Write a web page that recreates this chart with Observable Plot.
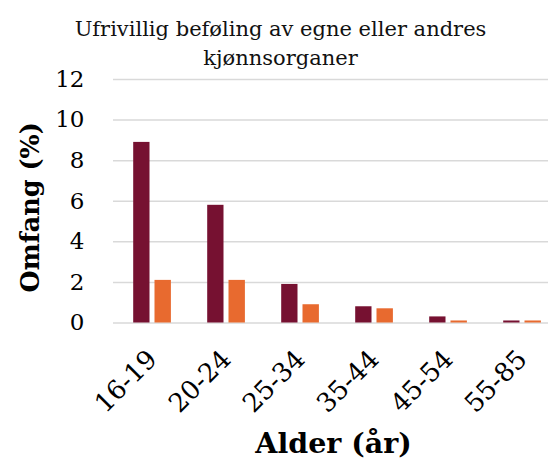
<!DOCTYPE html>
<html>
<head>
<meta charset="utf-8">
<script src="https://cdn.jsdelivr.net/npm/d3@7"></script>
<script src="https://cdn.jsdelivr.net/npm/@observablehq/plot@0.6"></script>
<style>
  html, body { margin: 0; padding: 0; background: #fff; }
  #title {
    box-sizing: border-box;
    width: 548px; height: 40px;
    padding: 15px 0 0 13px;
    text-align: center;
    font-family: "DejaVu Serif", serif;
    font-size: 21px; line-height: 28.5px;
    color: #111;
    white-space: nowrap;
    overflow: visible;
    position: relative;
    z-index: 0;
  }
  #chart { position: relative; z-index: 1; }
  #chart svg { display: block; background: transparent; }
</style>
</head>
<body>
<div id="title">Ufrivillig beføling av egne eller andres<br>kjønnsorganer</div>
<div id="chart"></div>
<script>
const ages = ["16-19", "20-24", "25-34", "35-44", "45-54", "55-85"];
const seriesDark = [8.9, 5.8, 1.9, 0.8, 0.3, 0.1];
const seriesOrange = [2.1, 2.1, 0.9, 0.7, 0.1, 0.1];
const yTicks = [0, 2, 4, 6, 8, 10, 12];
const yLabel = "Omfang (%)";
const xLabel = "Alder (år)";

const dark = ages.map((a, i) => ({age: a, value: seriesDark[i]}));
const orange = ages.map((a, i) => ({age: a, value: seriesOrange[i]}));

const chart = Plot.plot({
  width: 548,
  height: 422,
  marginTop: 39,
  marginBottom: 139.5,
  marginLeft: 113,
  marginRight: 0,
  style: {fontFamily: "DejaVu Serif", fontSize: "22px", color: "#000", background: "transparent"},
  x: {domain: ages, range: [113.5, 559.5], padding: 0},
  y: {domain: [0, 12]},
  marks: [
    Plot.ruleY(yTicks, {stroke: "#d9d9d9", strokeWidth: 1.5}),
    Plot.barY(dark, {x: "age", y: "value", fill: "#761131", insetLeft: 18.2, insetRight: 39.5}),
    Plot.barY(orange, {x: "age", y: "value", fill: "#E86A2F", insetLeft: 39.5, insetRight: 18.1}),
    Plot.axisY({ticks: yTicks, tickSize: 0, tickPadding: 29, label: null, fontSize: 23}),
    Plot.axisX({tickSize: 0, tickRotate: -45, tickPadding: 32, label: null, fontSize: 26}),
    Plot.text([yLabel], {frameAnchor: "left", textAnchor: "middle", lineAnchor: "middle", rotate: -90, dx: -83, dy: 6, fontWeight: "bold", fontSize: 25.5, fill: "#000"}),
    Plot.text([xLabel], {frameAnchor: "bottom", textAnchor: "middle", lineAnchor: "middle", dx: 2.5, dy: 120.5, fontWeight: "bold", fontSize: 28.5, fill: "#000"})
  ]
});
document.getElementById("chart").appendChild(chart);
</script>
</body>
</html>
